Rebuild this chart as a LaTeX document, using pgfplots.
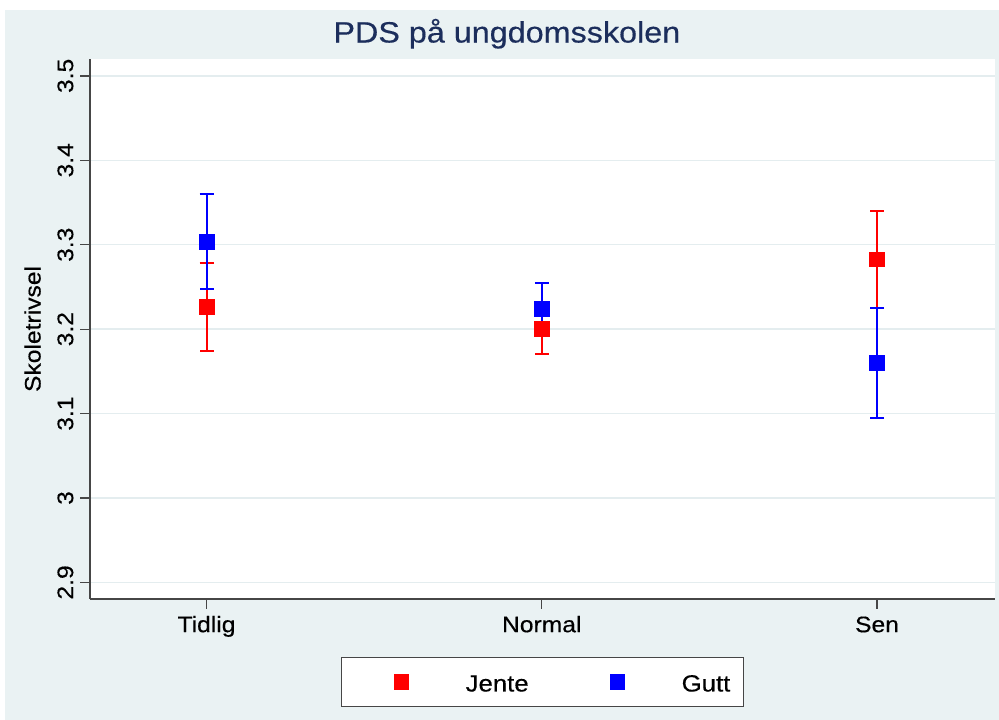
\documentclass[border=0pt]{standalone}
\usepackage{pgfplots}
\pgfplotsset{compat=1.18}
\usepackage{fontspec}
\setmainfont{Liberation Sans}[FakeStretch=1.1, FakeBold=0.35]
\definecolor{bgc}{RGB}{234,242,243}
\definecolor{gridc}{RGB}{228,237,239}
\definecolor{titlec}{RGB}{28,46,92}
\definecolor{axc}{RGB}{70,70,70}
\definecolor{sred}{RGB}{255,0,0}
\definecolor{sblue}{RGB}{0,0,255}
\pgfplotsset{
  mylegend/.style={legend image code/.code={\path (-48bp,0bp) (62bp,0bp);\draw[##1] plot coordinates {(0bp,0bp)};}},
}
\begin{document}
\begin{tikzpicture}[x=1bp,y=1bp]
\useasboundingbox (0,0) rectangle (999,720);
\fill[bgc] (5,0) rectangle (999,710);
\begin{axis}[
  at={(90bp,121bp)}, anchor=south west,
  scale only axis, width=905bp, height=540bp,
  xmin=0.6525, xmax=3.352, ymin=2.8804, ymax=3.520,
  axis background/.style={fill=white},
  axis x line*=bottom, axis y line*=left,
  axis line style={-, line width=1.3bp, color=axc},
  xtick={1,2,3}, xticklabels={Tidlig,Normal,Sen},
  ytick={2.9,3.0,3.1,3.2,3.3,3.4,3.5},
  yticklabels={2.9,3,3.1,3.2,3.3,3.4,3.5},
  tick align=outside, major tick length=10bp,
  tick style={line width=1.3bp, color=axc},
  ymajorgrids, major grid style={line width=1.5bp, color=gridc},
  yticklabel style={font=\fontsize{22.5}{26}\selectfont, rotate=90, anchor=south, inner xsep=0bp, inner ysep=6.5bp},
  xticklabel style={font=\fontsize{22.5}{26}\selectfont, anchor=north, inner ysep=7bp, text height=16bp, text depth=5bp},
  ylabel={Skoletrivsel},
  ylabel style={at={(axis description cs:-0.0635,0.5)}, anchor=center, font=\fontsize{22.5}{27}\selectfont},
  title={PDS på ungdomsskolen},
  title style={at={(axis description cs:0.4606,1)}, anchor=base, yshift=10.5bp, font=\fontsize{29.5}{34}\selectfont, text=titlec},
  legend columns=2,
  legend style={at={(axis description cs:0.5,0)}, anchor=north, yshift=-58bp,
    draw=axc, line width=1bp, fill=white, inner xsep=11bp, inner ysep=0bp,
    font=\fontsize{23.5}{28}\selectfont,
    nodes={inner xsep=2bp, inner ysep=12bp, text height=22bp, text depth=3bp},
    /tikz/every even column/.append style={column sep=38bp}},
]
\addplot+[only marks, mark=square*, mark size=7.3bp, color=sred, mark options={fill=sred, draw=sred, line width=0.5bp}, mylegend,
  error bars/.cd, y dir=both, y explicit,
  error bar style={line width=2bp, color=sred},
  error mark options={rotate=90, mark size=7bp, line width=2bp, color=sred}]
coordinates {
 (1,3.2265) +- (0,0.0523)
 (2,3.2007) +- (0,0.0304)
 (3,3.2826) +- (0,0.0576)
};
\addlegendentry{Jente}
\addplot+[only marks, mark=square*, mark size=7.3bp, color=sblue, mark options={fill=sblue, draw=sblue, line width=0.5bp}, mylegend,
  error bars/.cd, y dir=both, y explicit,
  error bar style={line width=2bp, color=sblue},
  error mark options={rotate=90, mark size=7bp, line width=2bp, color=sblue}]
coordinates {
 (1,3.3036) +- (0,0.0562)
 (2,3.2244) +- (0,0.0297)
 (3,3.1601) +- (0,0.0648)
};
\addlegendentry{Gutt}
\end{axis}
\end{tikzpicture}
\end{document}
